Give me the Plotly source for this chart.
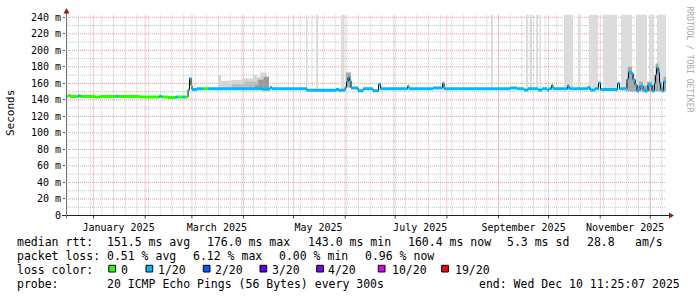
import plotly.graph_objects as go
import pandas as pd

# ---------------- data ----------------
range_start = "2024-12-15 11:25"
range_end = "2025-12-10 11:25"

med_times = [
    "2024-12-15 11:25", "2024-12-16 16:00", "2024-12-18 00:00", "2024-12-23 00:00", "2024-12-24 05:00",
    "2025-01-02 00:00", "2025-01-05 00:00", "2025-01-14 12:00", "2025-01-15 17:00", "2025-01-29 00:00",
    "2025-02-09 14:00", "2025-02-10 19:00", "2025-02-14 17:00", "2025-02-19 05:00", "2025-02-20 17:00",
    "2025-02-23 10:00", "2025-02-24 22:00", "2025-02-26 17:00", "2025-02-27 14:00", "2025-02-28 12:00",
    "2025-03-01 02:00", "2025-03-04 00:00", "2025-03-08 00:00", "2025-03-10 17:00", "2025-04-12 00:00",
    "2025-04-16 22:00", "2025-04-18 00:00", "2025-05-09 00:00", "2025-05-26 12:00", "2025-05-28 07:00",
    "2025-05-31 22:00", "2025-06-01 19:00", "2025-06-02 17:00", "2025-06-03 14:00", "2025-06-04 12:00",
    "2025-06-08 17:00", "2025-06-11 17:00", "2025-06-17 17:00", "2025-06-21 00:00", "2025-06-22 05:00",
    "2025-07-08 10:00", "2025-07-09 07:00", "2025-07-23 17:00", "2025-07-29 10:00", "2025-07-30 07:00",
    "2025-09-07 22:00", "2025-09-12 02:00", "2025-09-16 07:00", "2025-09-18 17:00", "2025-09-24 17:00",
    "2025-09-27 02:00", "2025-09-30 02:00", "2025-10-01 07:00", "2025-10-02 19:00", "2025-10-03 17:00",
    "2025-10-12 10:00", "2025-10-13 07:00", "2025-10-24 10:00", "2025-10-25 22:00", "2025-10-28 22:00",
    "2025-10-31 00:00", "2025-11-01 05:00", "2025-11-11 10:00", "2025-11-12 14:00", "2025-11-17 02:00",
    "2025-11-18 00:00", "2025-11-19 12:00", "2025-11-20 17:00", "2025-11-21 22:00", "2025-11-23 02:00",
    "2025-11-24 00:00", "2025-11-24 22:00", "2025-11-26 17:00", "2025-11-27 22:00", "2025-11-29 17:00",
    "2025-12-02 02:00", "2025-12-03 14:00", "2025-12-04 05:00", "2025-12-04 19:00", "2025-12-05 17:00",
    "2025-12-06 14:00", "2025-12-07 05:00", "2025-12-08 02:00", "2025-12-09 00:00", "2025-12-09 22:00",
]
med_values = [
    144, 145.5, 144, 145, 144,
    143.5, 144, 144.5, 144, 143.5,
    144.5, 143.5, 143, 143.5, 143.5,
    143.5, 143.5, 152, 166, 157,
    152.5, 153.5, 153.5, 153.5, 152.8,
    155, 153.5, 151.5, 152.5, 151.5,
    155, 162, 167, 163, 154.5,
    151, 153.4, 151, 159, 153.4,
    156.5, 153.4, 154.5, 160, 153.4,
    154.3, 153.4, 152, 153.4, 152,
    153.4, 152, 153.4, 157.5, 153.4,
    157, 153.4, 155, 152, 153.4,
    160.5, 152.5, 160, 153.4, 165,
    174, 172, 164.5, 158, 151,
    152.5, 156.5, 152.5, 151, 158,
    151, 160, 170, 179, 173,
    160, 152.5, 151, 162, 161,
]
med_loss = [
    0, 0, 0, 1, 0,
    0, 0, 1, 0, 0,
    1, 0, 0, 1, 0,
    1, 0, 1, 1, 0,
    1, 1, 0, 1, 1,
    1, 1, 1, 1, 1,
    1, 1, 1, 1, 1,
    1, 1, 1, 1, 1,
    1, 1, 1, 1, 1,
    1, 1, 1, 1, 1,
    1, 1, 1, 1, 1,
    1, 1, 1, 1, 1,
    1, 1, 1, 1, 1,
    1, 1, 1, 1, 1,
    1, 1, 1, 1, 1,
    1, 1, 1, 1, 1,
    1, 1, 1, 1, 1,
]

# periods where some pings went off the top of the scale (light smoke bars)
off_start = ["2025-05-08 12:00", "2025-05-14 12:00", "2025-05-29 12:00", "2025-08-27 12:00",
             "2025-09-17 12:00", "2025-09-19 14:00", "2025-09-23 12:00", "2025-09-25 14:00",
             "2025-10-10 07:00", "2025-10-18 17:00", "2025-10-25 07:00", "2025-11-02 17:00",
             "2025-11-13 12:00", "2025-11-22 12:00", "2025-11-30 07:00", "2025-12-05 02:00"]
off_end = ["2025-05-09 10:00", "2025-05-15 17:00", "2025-05-31 07:00", "2025-08-28 17:00",
           "2025-09-18 17:00", "2025-09-21 02:00", "2025-09-24 17:00", "2025-09-26 12:00",
           "2025-10-15 17:00", "2025-10-19 22:00", "2025-10-30 17:00", "2025-11-11 02:00",
           "2025-11-20 02:00", "2025-11-29 02:00", "2025-12-03 07:00", "2025-12-10 11:25"]
off_low = 152
off_high = 260

# smoke layers (step data: start times + upper values, common end)
smoke1_times = ["2025-03-16 22:00", "2025-03-18 12:00", "2025-03-24 22:00", "2025-03-30 22:00",
                "2025-04-06 21:00", "2025-04-08 22:00", "2025-04-10 22:00", "2025-04-14 22:00"]
smoke1_high = [170, 163, 164, 166, 170, 168, 173, 163]
smoke1_end = "2025-04-16 07:00"
smoke2_times = ["2025-03-24 22:00", "2025-04-01 12:00", "2025-04-08 22:00", "2025-04-14 22:00"]
smoke2_high = [159, 162, 165, 160]
smoke2_end = "2025-04-16 07:00"
smoke3_times = ["2025-04-07 22:00", "2025-04-09 22:00", "2025-04-13 00:00"]
smoke3_high = [158, 164, 168]
smoke3_end = "2025-04-16 07:00"
smoke_low = 152

spike_times = ["2025-06-01 12:00", "2025-06-04 12:00",
               "2025-11-16 12:00", "2025-11-17 12:00", "2025-11-20 02:00", "2025-11-21 07:00",
               "2025-11-22 12:00", "2025-11-24 07:00", "2025-11-26 17:00", "2025-11-29 02:00",
               "2025-12-02 02:00", "2025-12-03 07:00", "2025-12-04 05:00", "2025-12-05 22:00",
               "2025-12-06 22:00", "2025-12-08 02:00", "2025-12-09 00:00"]
spike_high = [173, None,
              160, 180, 172, 165,
              158, 162, 157, 162,
              158, 170, 184, 178,
              162, 156, 168]
spike_low = [155, None,
             150, 150, 150, 150,
             149, 150, 149, 150,
             149, 150, 150, 150,
             150, 149, 150]
spike_end = "2025-12-10 11:25"

loss_colors = {0: "#26ff00", 1: "#00b8ff"}

y_ticks = [0, 20, 40, 60, 80, 100, 120, 140, 160, 180, 200, 220, 240]
y_ticktext = ["0", "20 m", "40 m", "60 m", "80 m", "100 m", "120 m", "140 m",
              "160 m", "180 m", "200 m", "220 m", "240 m"]
y_minor = [10, 30, 50, 70, 90, 110, 130, 150, 170, 190, 210, 230]
month_starts = ["2025-01-01", "2025-02-01", "2025-03-01", "2025-04-01", "2025-05-01", "2025-06-01",
                "2025-07-01", "2025-08-01", "2025-09-01", "2025-10-01", "2025-11-01", "2025-12-01"]
label_dates = ["2025-01-16", "2025-03-16", "2025-05-16", "2025-07-16", "2025-09-16", "2025-11-16"]
label_text = ["January 2025", "March 2025", "May 2025", "July 2025", "September 2025", "November 2025"]

legend_colors = ["#26ff00", "#00b8ff", "#0059ff", "#5e00ff", "#7e00ff", "#dd00ff", "#ff0000"]
legend_labels = ["0", "1/20", "2/20", "3/20", "4/20", "10/20", "19/20"]

# ---------------- helpers ----------------
W, H = 697, 297
def px(x):
    return x / W
def py(y):
    return 1 - y / H

MONO = "DejaVu Sans Mono"
MAJOR_GRID = "#e49a9a"
MINOR_GRID = "#c4c4c4"

def step_bars(times, highs, lows, end, color):
    t = pd.to_datetime(list(times) + [end])
    xs, ws, bs, hs = [], [], [], []
    for i in range(len(times)):
        hi = highs[i]
        lo = lows[i] if isinstance(lows, list) else lows
        if hi is None or lo is None:
            continue
        a, b = t[i], t[i + 1]
        xs.append(a + (b - a) / 2)
        ws.append((b - a).total_seconds() * 1000)
        bs.append(lo)
        hs.append(hi - lo)
    return go.Bar(x=xs, y=hs, base=bs, width=ws, marker=dict(color=color, line=dict(width=0)),
                  opacity=1, hoverinfo="skip", showlegend=False)

fig = go.Figure()

fig.add_trace(step_bars(
    [s for pair in zip(off_start, off_end) for s in pair][:-1],
    [v for _ in off_start for v in (off_high, None)][:-1],
    off_low, off_end[-1], "#dcdcdc"))

fig.add_trace(step_bars(smoke1_times, smoke1_high, smoke_low, smoke1_end, "#d4d4d4"))
fig.add_trace(step_bars(smoke2_times, smoke2_high, smoke_low, smoke2_end, "#bcbcbc"))
fig.add_trace(step_bars(smoke3_times, smoke3_high, smoke_low, smoke3_end, "#9c9c9c"))
fig.add_trace(step_bars(spike_times, spike_high, spike_low, spike_end, "#a8a8a8"))

fig.add_trace(go.Scatter(x=med_times + [range_end], y=med_values + [med_values[-1]],
                         mode="lines", line=dict(color="#000000", width=1, shape="hv"),
                         hoverinfo="skip", showlegend=False))

tt = med_times + [range_end]
for cls, col in loss_colors.items():
    xs, ys = [], []
    for i in range(len(med_times)):
        if med_loss[i] == cls:
            xs += [tt[i], tt[i + 1], None]
            ys += [med_values[i], med_values[i], None]
    fig.add_trace(go.Scatter(x=xs, y=ys, mode="lines", line=dict(color=col, width=3),
                             hoverinfo="skip", showlegend=False))

x0p, x1p = 66, 666
ybot, ytop = 215.5, 14.8
weekly = pd.date_range("2024-12-16", range_end, freq="7D")

fig.update_layout(
    width=W, height=H, autosize=False,
    margin=dict(l=0, r=0, t=0, b=0, pad=0, autoexpand=False),
    paper_bgcolor="white", plot_bgcolor="white",
    barmode="overlay", showlegend=False,
    font=dict(family=MONO, color="#000000"),
    xaxis=dict(
        domain=[px(x0p), px(x1p)], range=[range_start, range_end], type="date",
        tickmode="array", tickvals=label_dates, ticktext=label_text,
        tickfont=dict(family=MONO, size=10, color="#000"), automargin=False,
        showgrid=False, ticks="", showline=False, zeroline=False, ticklabelstandoff=4,
        fixedrange=True,
    ),
    yaxis=dict(
        domain=[py(ybot), py(ytop)], range=[0, 243], automargin=False,
        tickmode="array", tickvals=y_ticks, ticktext=y_ticktext,
        tickfont=dict(family=MONO, size=10, color="#000"),
        showgrid=False, ticks="outside", ticklen=2, tickcolor="#555",
        showline=False, zeroline=False, fixedrange=True,
    ),
)

shapes = []
DOT = "1px,1px"
for d in weekly:
    shapes.append(dict(type="line", xref="x", yref="paper", x0=d, x1=d, y0=py(ybot), y1=py(ytop),
                       layer="below", line=dict(color=MINOR_GRID, width=1, dash=DOT)))
for v in y_minor:
    shapes.append(dict(type="line", xref="paper", yref="y", x0=px(x0p), x1=px(x1p), y0=v, y1=v,
                       layer="below", line=dict(color=MINOR_GRID, width=1, dash=DOT)))
for d in month_starts:
    shapes.append(dict(type="line", xref="x", yref="paper", x0=d, x1=d, y0=py(ybot), y1=py(ytop),
                       layer="below", line=dict(color=MAJOR_GRID, width=1, dash=DOT)))
    shapes.append(dict(type="line", xref="x", yref="paper", x0=d, x1=d, y0=py(ybot), y1=py(ybot + 3),
                       line=dict(color="#444444", width=1)))
for v in y_ticks[1:]:
    shapes.append(dict(type="line", xref="paper", yref="y", x0=px(x0p), x1=px(x1p), y0=v, y1=v,
                       layer="below", line=dict(color=MAJOR_GRID, width=1, dash=DOT)))

shapes += [
    dict(type="line", xref="paper", yref="paper", x0=px(62), x1=px(670), y0=py(215.5), y1=py(215.5),
         line=dict(color="#222222", width=1)),
    dict(type="path", xref="paper", yref="paper",
         path=f"M {px(674)},{py(215.5)} L {px(669)},{py(212.5)} L {px(669)},{py(218.5)} Z",
         fillcolor="#9b1c1c", line=dict(width=0)),
    dict(type="line", xref="paper", yref="paper", x0=px(66.5), x1=px(66.5), y0=py(218.5), y1=py(13),
         line=dict(color="#707070", width=1)),
    dict(type="path", xref="paper", yref="paper",
         path=f"M {px(66.5)},{py(8)} L {px(63.5)},{py(13.5)} L {px(69.5)},{py(13.5)} Z",
         fillcolor="#9b1c1c", line=dict(width=0)),
]

annotations = []
def txt(s, x, y, size=11.5, color="#000000", angle=0, xanchor="left"):
    annotations.append(dict(text=s, x=px(x), y=py(y), xref="paper", yref="paper",
                            xanchor=xanchor, yanchor="middle", showarrow=False, textangle=angle,
                            font=dict(family=MONO, size=size, color=color), borderpad=0))

txt("Seconds", 11, 113, size=11, angle=-90, xanchor="center")
txt("RRDTOOL / TOBI OETIKER", 688.5, 59, size=8, color="#aaaaaa", angle=90, xanchor="center")

DY = 0.5
L1, L2, L3, L4 = 241 + DY, 255.2 + DY, 269.4 + DY, 283.6 + DY
for s, x in [("median rtt:", 16.7), ("151.5 ms avg", 107.3), ("176.0 ms max", 207.3),
             ("143.0 ms min", 308), ("160.4 ms now", 408.3), ("5.3 ms sd", 506.7),
             ("28.8", 586.7), ("am/s", 635)]:
    txt(s, x - 1, L1)
for s, x in [("packet loss:", 16.7), ("0.51 % avg", 107.3), ("6.12 % max", 192.7),
             ("0.00 % min", 279.3), ("0.96 % now", 365)]:
    txt(s, x - 1, L2)
txt("loss color:", 15.7, L3)
box_x = [108.8, 146, 203.3, 260, 316.7, 378.3, 441.7]
lab_x = [120.7, 158.3, 215, 271.7, 328.3, 391.7, 455]
for c, lab, bx, lx in zip(legend_colors, legend_labels, box_x, lab_x):
    shapes.append(dict(type="rect", xref="paper", yref="paper", x0=px(bx), x1=px(bx + 6.7),
                       y0=py(272), y1=py(265.3), fillcolor=c, line=dict(color="#000000", width=1)))
    txt(lab, lx - 1, L3)
txt("probe:", 15.7, L4)
txt("20 ICMP Echo Pings (56 Bytes) every 300s", 106.3, L4)
txt("end: Wed Dec 10 11:25:07 2025", 478.3, L4)

fig.update_layout(shapes=shapes, annotations=annotations)

fig.write_html("out.html", config={"displayModeBar": False, "staticPlot": True})
